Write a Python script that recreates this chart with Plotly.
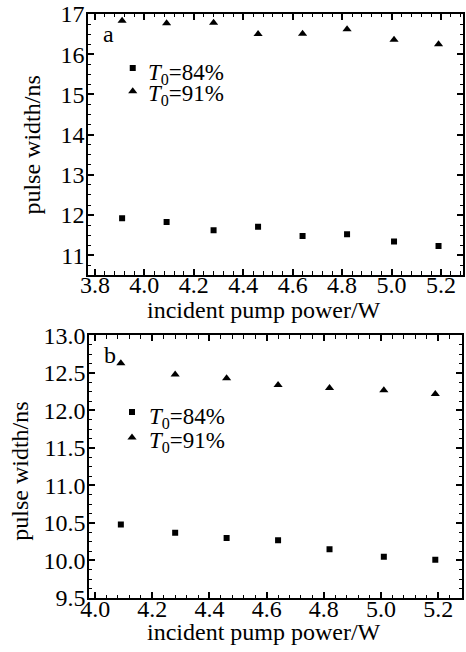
import plotly.graph_objects as go

# Panel a
xa = [3.91, 4.09, 4.28, 4.46, 4.64, 4.82, 5.01, 5.19]
a_84 = [11.92, 11.83, 11.62, 11.71, 11.48, 11.52, 11.34, 11.23]
a_91 = [16.83, 16.77, 16.78, 16.50, 16.51, 16.62, 16.36, 16.25]

# Panel b
xb = [4.09, 4.28, 4.46, 4.64, 4.82, 5.01, 5.19]
b_84 = [10.48, 10.37, 10.30, 10.27, 10.15, 10.05, 10.01]
b_91 = [12.63, 12.48, 12.43, 12.34, 12.30, 12.27, 12.22]

series_labels = ["<i>T</i><sub>0</sub>=84%", "<i>T</i><sub>0</sub>=91%"]
x_title = "incident pump power/W"
y_title = "pulse width/ns"

FONT = "Liberation Serif"
FS = 24
fig = go.Figure()

def add(x, y, sym, size, xa_, ya_):
    fig.add_trace(go.Scatter(x=x, y=y, mode="markers", xaxis=xa_, yaxis=ya_,
                             marker=dict(symbol=sym, size=size, color="black", line=dict(width=0)),
                             showlegend=False))

add(xa, a_84, "square", 6, "x", "y")
add(xa, a_91, "triangle-up", 8, "x", "y")
add(xb, b_84, "square", 6, "x2", "y2")
add(xb, b_91, "triangle-up", 8, "x2", "y2")

ax_common = dict(showline=True, linecolor="black", linewidth=1.6, mirror="allticks",
                 ticks="inside", ticklen=6, tickwidth=1.6, tickcolor="black",
                 showgrid=False, zeroline=False,
                 tickfont=dict(family=FONT, size=FS, color="black"))
minor_common = dict(ticks="inside", ticklen=3.5, tickwidth=1.3, tickcolor="black", showgrid=False)

fig.update_layout(
    width=466, height=652,
    margin=dict(l=88, r=1, t=13, b=54),
    plot_bgcolor="white", paper_bgcolor="white",
    xaxis=dict(domain=[0, 1], anchor="y", range=[3.772, 5.289], dtick=0.2, tick0=3.8,
               tickformat=".1f", minor=dict(dtick=0.04, tick0=3.8, **minor_common),
               ticklabelstandoff=-12, **ax_common),
    yaxis=dict(domain=[0.5538, 1.0], anchor="x", range=[10.52, 17.0], dtick=1, tick0=11,
               minor=dict(dtick=0.25, tick0=11, **minor_common),
               ticklabelstandoff=-3, **ax_common),
    xaxis2=dict(domain=[0.003, 0.997], anchor="y2", range=[3.979, 5.283], dtick=0.2, tick0=4.0,
                tickformat=".1f", minor=dict(dtick=0.04, tick0=4.0, **minor_common),
                ticklabelstandoff=-12, **ax_common),
    yaxis2=dict(domain=[0.0, 0.4496], anchor="x2", range=[9.5, 13.0], dtick=0.5, tick0=9.5,
                tickformat=".1f", minor=dict(dtick=0.125, tick0=9.5, **minor_common),
                ticklabelstandoff=-3, **ax_common),
)

tfont = dict(family=FONT, size=FS, color="black")
fig.add_annotation(text=x_title, xref="paper", yref="paper", x=0.469, y=0.494,
                   showarrow=False, xanchor="center", yanchor="middle", font=tfont)
fig.add_annotation(text=x_title, xref="paper", yref="paper", x=0.469, y=-0.058,
                   showarrow=False, xanchor="center", yanchor="middle", font=tfont)
fig.add_annotation(text=y_title, xref="paper", yref="paper", x=-0.15, y=0.776, textangle=-90,
                   showarrow=False, xanchor="center", yanchor="middle", font=tfont)
fig.add_annotation(text=y_title, xref="paper", yref="paper", x=-0.18, y=0.217, textangle=-90,
                   showarrow=False, xanchor="center", yanchor="middle", font=tfont)

fig.add_annotation(text="a", xref="x domain", yref="y domain", x=0.035, y=0.923,
                   showarrow=False, xanchor="left", yanchor="middle", font=tfont)
fig.add_annotation(text="b", xref="x2 domain", yref="y2 domain", x=0.035, y=0.924,
                   showarrow=False, xanchor="left", yanchor="middle", font=tfont)

def legend_data(xk, yk, xm, y1, y2, ty1, ty2):
    fig.add_trace(go.Scatter(x=[xm], y=[y1], mode="markers", xaxis=xk, yaxis=yk,
                             marker=dict(symbol="square", size=6, color="black", line=dict(width=0)),
                             showlegend=False, hoverinfo="skip"))
    fig.add_trace(go.Scatter(x=[xm], y=[y2], mode="markers", xaxis=xk, yaxis=yk,
                             marker=dict(symbol="triangle-up", size=8, color="black", line=dict(width=0)),
                             showlegend=False, hoverinfo="skip"))
    for yy, lbl in [(ty1, series_labels[0]), (ty2, series_labels[1])]:
        fig.add_annotation(text=lbl, xref=xk + " domain", yref=yk + " domain",
                           x=0.155, y=yy, showarrow=False, xanchor="left", yanchor="middle",
                           font=dict(family=FONT, size=23, color="black"))

legend_data("x", "y", 3.953, 15.66, 15.08, 0.77, 0.69)
legend_data("x2", "y2", 4.129, 11.98, 11.64, 0.684, 0.593)

fig.write_html("out.html", config={"displayModeBar": False},
               post_script="document.body.style.margin='0';document.body.style.overflow='hidden';")
